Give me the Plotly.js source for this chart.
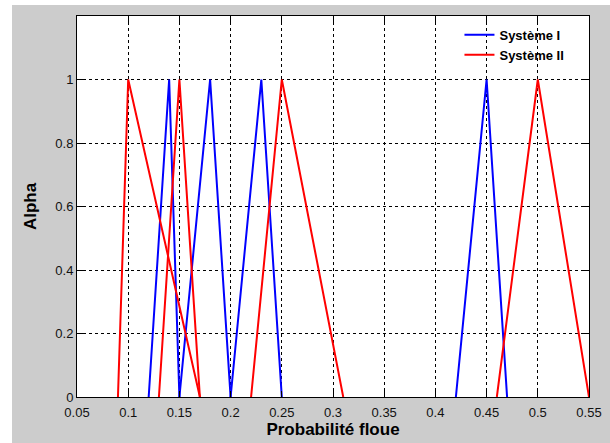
<!DOCTYPE html>
<html>
<head>
<meta charset="utf-8">
<script src="https://cdn.plot.ly/plotly-3.0.1.min.js"></script>
<style>html,body{margin:0;padding:0;background:#fff;}#chart{width:610px;height:443px;}</style>
</head>
<body>
<div id="chart"></div>
<script>
// Triangular fuzzy numbers: left foot, peak, right foot
const sys1Left  = [0.12, 0.15, 0.20, 0.42];
const sys1Peak  = [0.14, 0.18, 0.23, 0.45];
const sys1Right = [0.15, 0.20, 0.25, 0.47];

const sys2Left  = [0.09, 0.13, 0.22, 0.46];
const sys2Peak  = [0.10, 0.15, 0.25, 0.50];
const sys2Right = [0.17, 0.17, 0.31, 0.55];

const alphaLevels = [0, 1, 0];

const xTicks = [0.05, 0.1, 0.15, 0.2, 0.25, 0.3, 0.35, 0.4, 0.45, 0.5, 0.55];
const xTickText = ['0.05', '0.1', '0.15', '0.2', '0.25', '0.3', '0.35', '0.4', '0.45', '0.5', '0.55'];
const yTicks = [0, 0.2, 0.4, 0.6, 0.8, 1];
const yTickText = ['0', '0.2', '0.4', '0.6', '0.8', '1'];

function buildTriangles(left, peak, right) {
  const x = [], y = [];
  for (let i = 0; i < left.length; i++) {
    x.push(left[i], peak[i], right[i], null);
    y.push(alphaLevels[0], alphaLevels[1], alphaLevels[2], null);
  }
  return {x, y};
}

const s1 = buildTriangles(sys1Left, sys1Peak, sys1Right);
const s2 = buildTriangles(sys2Left, sys2Peak, sys2Right);

const traces = [
  {x: s1.x, y: s1.y, type: 'scatter', mode: 'lines', name: 'Système I',
   line: {color: '#0000ff', width: 2}, connectgaps: false},
  {x: s2.x, y: s2.y, type: 'scatter', mode: 'lines', name: 'Système II',
   line: {color: '#ff0000', width: 2}, connectgaps: false}
];

const axisCommon = {
  showline: true, linecolor: '#000', linewidth: 1, mirror: 'ticks',
  ticks: 'inside', ticklen: 6, tickcolor: '#000', tickwidth: 1,
  showgrid: true, gridcolor: '#000', gridwidth: 1, griddash: '3px,3px',
  zeroline: false, tickfont: {family: 'Arial, Liberation Sans, sans-serif', size: 13, color: '#111'},
  tickmode: 'array'
};

const layout = {
  width: 610, height: 443,
  paper_bgcolor: '#cccccc', plot_bgcolor: '#ffffff',
  margin: {l: 77, r: 21, t: 16, b: 46},
  showlegend: true,
  font: {family: 'Arial, Liberation Sans, sans-serif', color: '#000'},
  xaxis: Object.assign({}, axisCommon, {
    range: [0.05, 0.55], tickvals: xTicks, ticktext: xTickText, ticklabelstandoff: 3,
    title: {text: 'Probabilité floue', font: {size: 17, family: 'Arial, Liberation Sans, sans-serif', weight: 'bold', color: '#000'}, standoff: 3}
  }),
  yaxis: Object.assign({}, axisCommon, {
    range: [0, 1.2], tickvals: yTicks, ticktext: yTickText,
    title: {text: 'Alpha', font: {size: 17, family: 'Arial, Liberation Sans, sans-serif', weight: 'bold', color: '#000'}, standoff: 14}
  }),
  legend: {
    x: 0.747, y: 0.99, xanchor: 'left', yanchor: 'top',
    bgcolor: 'rgba(0,0,0,0)', borderwidth: 0,
    font: {family: 'Arial, Liberation Sans, sans-serif', size: 13, weight: 'bold', color: '#000'},
    tracegroupgap: 0
  },
  shapes: [
    {type: 'rect', xref: 'paper', yref: 'paper', x0: -0.3, x1: (12 - 77) / 512, y0: -0.3, y1: 1.2,
     fillcolor: '#ffffff', line: {width: 0}, layer: 'above'},
    {type: 'rect', xref: 'paper', yref: 'paper', x0: -0.3, x1: 1.2, y0: (397 - 5) / 381, y1: 1.2,
     fillcolor: '#ffffff', line: {width: 0}, layer: 'above'}
  ]
};

Plotly.newPlot('chart', traces, layout, {staticPlot: true, displayModeBar: false});
</script>
</body>
</html>
